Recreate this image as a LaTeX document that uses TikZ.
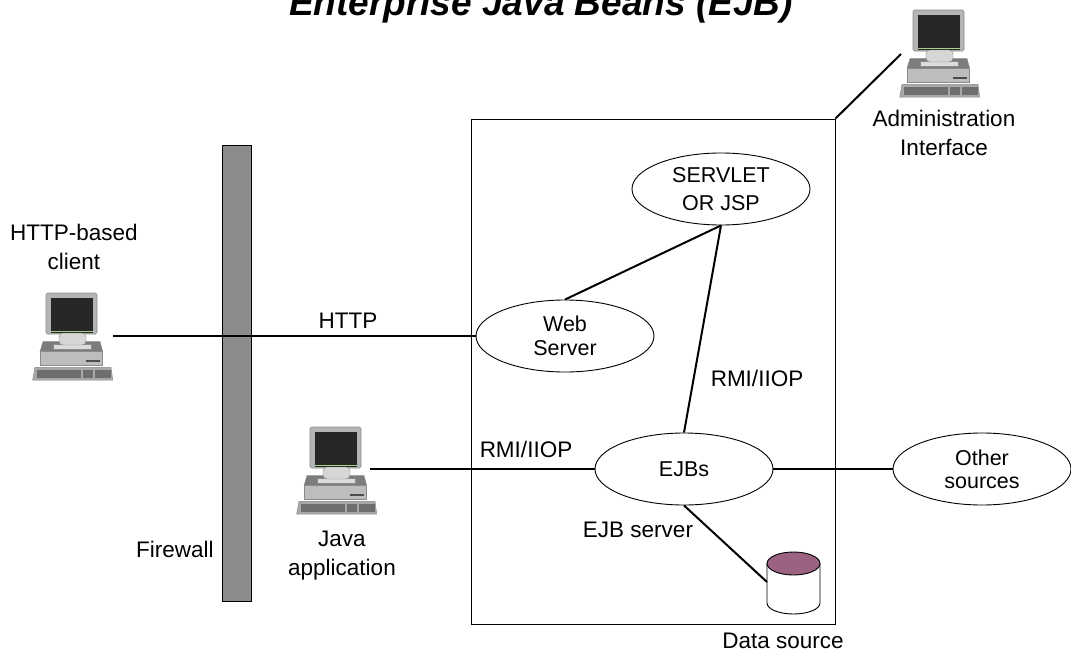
\documentclass[tikz,border=0pt]{standalone}
\usepackage{fontspec}
\setmainfont{Liberation Sans}
\usetikzlibrary{shapes.geometric}
\definecolor{monframe}{HTML}{B4B4B4}
\definecolor{mondark}{HTML}{8A8A8A}
\definecolor{screen}{HTML}{262626}
\definecolor{scrgreen}{HTML}{A9CF8E}
\definecolor{neckc}{HTML}{D6D6D6}
\definecolor{cputop}{HTML}{7C7C7C}
\definecolor{cpufront}{HTML}{BDBDBD}
\definecolor{kbbase}{HTML}{A8A8A8}
\definecolor{kbkeys}{HTML}{6E6E6E}
\definecolor{fwgray}{HTML}{8C8C8C}
\definecolor{dbtop}{HTML}{9B6381}
\tikzset{
  conn/.style={line width=2pt},
  ell/.style={ellipse, draw, line width=0.9pt, fill=white, minimum width=178pt, minimum height=72pt, inner sep=0pt, align=center, font=\fontsize{21.5}{27}\selectfont},
  lbl/.style={inner sep=0pt, align=center, font=\fontsize{22.5}{29}\selectfont},
  computer/.pic={
    % monitor
    \filldraw[fill=monframe, draw=mondark, line width=0.6pt, rounded corners=1.5pt] (0,0) rectangle (51,41);
    \fill[screen] (5,5) rectangle (47,39.5);
    \fill[scrgreen] (5,37.8) rectangle (47,39.3);
    % cpu
    \filldraw[fill=cputop, draw=mondark, line width=0.5pt] (-3,48.7) -- (54,48.7) -- (56.7,58.7) -- (-6,58.7) -- cycle;
    \filldraw[fill=cpufront, draw=mondark, line width=0.5pt] (-6,58.7) rectangle (56.7,72);
    \fill[kbkeys!70!black] (40,67) rectangle (54,68.5);
    % stand
    \filldraw[fill=neckc!85!white, draw=mondark, line width=0.4pt] (7,51) rectangle (45,56);
    \filldraw[fill=neckc, draw=mondark, line width=0.4pt, rounded corners=4pt] (13,40) rectangle (40,52);
    % keyboard
    \filldraw[fill=kbbase, draw=mondark, line width=0.5pt] (-11,74.3) -- (65,74.3) -- (66.7,87) -- (-13.3,87) -- cycle;
    \fill[kbkeys] (-9.5,76.8) rectangle (35,84.8);
    \fill[kbkeys] (37,76.8) rectangle (47,84.8);
    \fill[kbkeys] (49,76.8) rectangle (64.5,84.8);
  }
}
\begin{document}
\begin{tikzpicture}[x=1pt,y=-1pt]
\useasboundingbox (0,0) rectangle (1071,653);
\fill[white] (0,0) rectangle (1071,653);

% title
\node[inner sep=0pt, anchor=base, font=\fontsize{37}{40}\selectfont\bfseries\itshape] (title) at (541,15) {Enterprise Java Beans (EJB)};

% firewall and server box
\node[draw, fill=fwgray, line width=0.9pt, minimum width=29pt, minimum height=456pt, inner sep=0pt] (fw) at (236.5,373) {};
\node[draw, line width=0.9pt, minimum width=364pt, minimum height=505pt, inner sep=0pt] (srv) at (653,371.5) {};

% computers
\pic at (46,293) {computer};
\pic at (310,427) {computer};
\pic at (913,10) {computer};
\coordinate (httpc) at (113,336);
\coordinate (javac) at (370,469);
\coordinate (adminc) at (901,54);

% ellipses
\node[ell] (servlet) at (721,189) {SERVLET\\[1pt]OR JSP};
\node[ell] (web) at (565,336) {Web\\[-3pt]Server};
\node[ell] (ejb) at (684,469) {EJBs};
\node[ell] (other) at (982,469) {Other\\[-4pt]sources};

% data source cylinder
\filldraw[fill=white, line width=0.9pt] (767,563.5) -- (767,603) arc[start angle=180, end angle=0, x radius=26.5, y radius=11] -- (820,563.5) -- cycle;
\filldraw[fill=dbtop, line width=0.9pt] (793.5,563.5) ellipse [x radius=26.5, y radius=11.5];
\coordinate (dbc) at (767,582);

% connectors
\draw[conn] (httpc) -- (web.west);
\draw[conn] (javac) -- (ejb.west);
\draw[conn] (ejb.east) -- (other.west);
\draw[conn] (web.north) -- (servlet.south);
\draw[conn] (servlet.south) -- (ejb.north);
\draw[conn] (ejb.south) -- (dbc);
\draw[conn] (srv.north east) -- (adminc);

% labels
\node[lbl] (lclient) at (74,247) {HTTP-based\\client};
\node[lbl] (ladmin) at (944,133) {Administration\\Interface};
\node[lbl] (ljava) at (342,556) {Java\\application};
\node[lbl, anchor=base] (lfw) at (175,557) {Firewall};
\node[lbl, anchor=base] (lhttp) at (348,328) {HTTP};
\node[lbl, anchor=base] (lrmi1) at (757,386) {RMI/IIOP};
\node[lbl, anchor=base] (lrmi2) at (526,457) {RMI/IIOP};
\node[lbl, anchor=base] (lejbs) at (638,537) {EJB server};
\node[lbl, anchor=base] (lds) at (783,648) {Data source};
\end{tikzpicture}
\end{document}
